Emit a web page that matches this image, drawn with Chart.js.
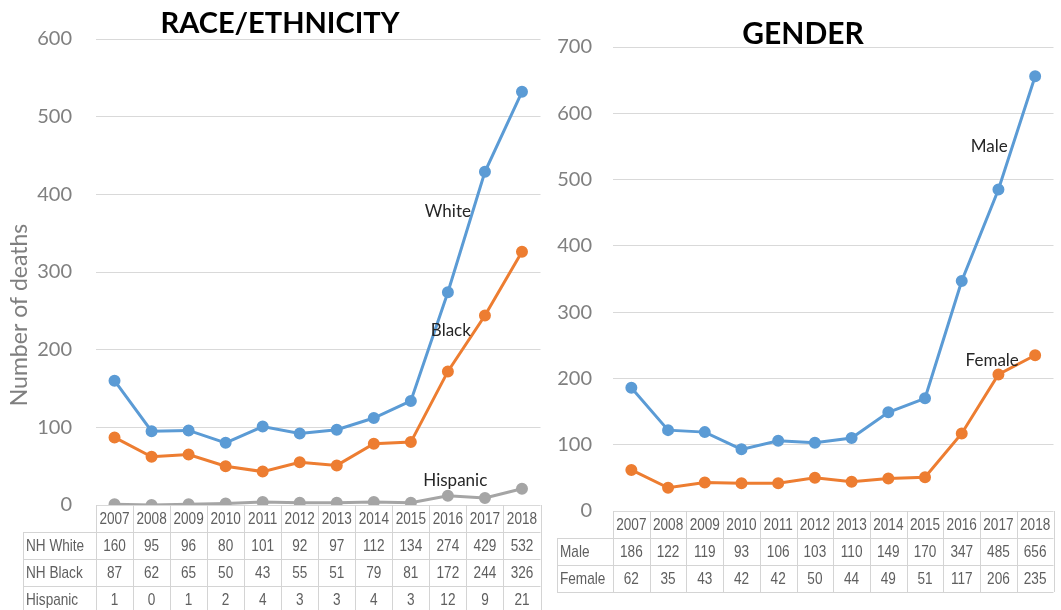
<!DOCTYPE html>
<html>
<head>
<meta charset="utf-8">
<script src="https://cdn.jsdelivr.net/npm/chart.js@4"></script>
<style>
  html, body { margin: 0; padding: 0; background: #fff; }
  body { width: 1061px; height: 610px; position: relative; overflow: hidden; }
  .panel { position: absolute; top: 0; height: 610px; }
  #race_panel { left: 0; width: 548px; }
  #gender_panel { left: 548px; width: 513px; }
</style>
</head>
<body>
<div class="panel" id="race_panel"><canvas id="race_chart"></canvas></div>
<div class="panel" id="gender_panel"><canvas id="gender_chart"></canvas></div>
<script>
const years = ["2007", "2008", "2009", "2010", "2011", "2012", "2013", "2014", "2015", "2016", "2017", "2018"];

const nhWhite = [160, 95, 96, 80, 101, 92, 97, 112, 134, 274, 429, 532];
const nhBlack = [87, 62, 65, 50, 43, 55, 51, 79, 81, 172, 244, 326];
const hispanic = [1, 0, 1, 2, 4, 3, 3, 4, 3, 12, 9, 21];

const male = [186, 122, 119, 93, 106, 103, 110, 149, 170, 347, 485, 656];
const female = [62, 35, 43, 42, 42, 50, 44, 49, 51, 117, 206, 235];

const raceMax = 600;
const genderMax = 700;
const tickStep = 100;

const BLUE = "#5B9BD5";
const ORANGE = "#ED7D31";
const GREY = "#A5A5A5";

// squeezed text for the table cells (narrow face look)
const NARROW = 0.8;
function narrowText(ctx, text, x, y) {
  ctx.save();
  ctx.scale(NARROW, 1);
  ctx.fillText(text, x / NARROW, y);
  ctx.restore();
}

// draws the title, the series names and the data table under the plot
function tablePlugin(cfg) {
  return {
    id: "tablePlugin",
    afterDraw(chart) {
      const { ctx, chartArea, scales } = chart;
      const x = scales.x;
      const y = scales.y;
      const step = (chartArea.right - chartArea.left) / years.length;
      const top = chartArea.bottom;
      const rh = 27;
      const nRows = cfg.rows.length;

      ctx.save();
      ctx.strokeStyle = "#d4d4d4";
      ctx.lineWidth = 1;
      ctx.beginPath();
      for (let r = 1; r <= nRows + 1; r++) {
        const yy = Math.round(top + r * rh) + 0.5;
        ctx.moveTo(cfg.labelLeft, yy);
        ctx.lineTo(chartArea.right, yy);
      }
      for (let c = 0; c <= years.length; c++) {
        const xx = Math.round(chartArea.left + c * step) + 0.5;
        ctx.moveTo(xx, top);
        ctx.lineTo(xx, top + (nRows + 1) * rh);
      }
      ctx.moveTo(cfg.labelLeft + 0.5, top + rh);
      ctx.lineTo(cfg.labelLeft + 0.5, top + (nRows + 1) * rh);
      ctx.stroke();

      ctx.font = "17px 'Liberation Sans', Arial, sans-serif";
      ctx.fillStyle = "#5f5f5f";
      ctx.textBaseline = "middle";
      ctx.textAlign = "center";
      years.forEach((yr, i) => narrowText(ctx, yr, x.getPixelForValue(i), top + rh / 2 + 1));
      cfg.rows.forEach((row, r) => {
        const cy = top + (r + 1.5) * rh + 1;
        ctx.textAlign = "left";
        narrowText(ctx, row.name, cfg.labelLeft + 3, cy);
        ctx.textAlign = "center";
        row.values.forEach((v, i) => narrowText(ctx, String(v), x.getPixelForValue(i), cy));
      });

      ctx.font = "17px Lato";
      ctx.fillStyle = "#262626";
      cfg.labels.forEach(l => {
        ctx.fillText(l.text, x.getPixelForValue(l.at), y.getPixelForValue(l.value));
      });

      ctx.font = "bold " + cfg.titleSize + "px Lato";
      ctx.fillStyle = "#000";
      ctx.fillText(cfg.title, cfg.titleX, cfg.titleY);

      if (cfg.yTitle) {
        ctx.translate(20, 315);
        ctx.rotate(-Math.PI / 2);
        ctx.font = "23px Lato";
        ctx.fillStyle = "#7f7f7f";
        ctx.fillText(cfg.yTitle, 0, 0);
      }
      ctx.restore();
    }
  };
}

function lineSet(label, data, color) {
  return {
    label: label,
    data: data,
    borderColor: color,
    backgroundColor: color,
    borderWidth: 3,
    pointRadius: 4.5,
    pointBackgroundColor: color,
    pointBorderColor: color,
    tension: 0
  };
}

function makeChart(id, datasets, max, yWidth, padding, tickPad, plugin) {
  return new Chart(document.getElementById(id), {
    type: "line",
    data: { labels: years, datasets: datasets },
    options: {
      responsive: true,
      maintainAspectRatio: false,
      animation: false,
      layout: { padding: padding },
      plugins: { legend: { display: false }, tooltip: { enabled: false } },
      scales: {
        x: { display: false, offset: true },
        y: {
          min: 0,
          max: max,
          ticks: {
            stepSize: tickStep,
            padding: tickPad,
            color: "#808080",
            font: { family: "Lato", size: 20 }
          },
          grid: { color: "#d9d9d9", drawTicks: false },
          border: { display: false },
          afterFit(scale) { scale.width = yWidth; }
        }
      }
    },
    plugins: [plugin]
  });
}

makeChart(
  "race_chart",
  [lineSet("NH White", nhWhite, BLUE), lineSet("NH Black", nhBlack, ORANGE), lineSet("Hispanic", hispanic, GREY)],
  raceMax, 96, { top: 39, bottom: 105, left: 0, right: 2 }, 24,
  tablePlugin({
    title: "RACE/ETHNICITY", titleX: 280, titleY: 24, titleSize: 29,
    yTitle: "Number of deaths",
    labelLeft: 23,
    rows: [
      { name: "NH White", values: nhWhite },
      { name: "NH Black", values: nhBlack },
      { name: "Hispanic", values: hispanic }
    ],
    labels: [
      { text: "White", at: 9.0, value: 378 },
      { text: "Black", at: 9.08, value: 225 },
      { text: "Hispanic", at: 9.2, value: 32 }
    ]
  })
);

makeChart(
  "gender_chart",
  [lineSet("Male", male, BLUE), lineSet("Female", female, ORANGE)],
  genderMax, 65, { top: 47, bottom: 99, left: 0, right: 0 }, 21,
  tablePlugin({
    title: "GENDER", titleX: 255, titleY: 34, titleSize: 30,
    labelLeft: 9,
    rows: [
      { name: "Male", values: male },
      { name: "Female", values: female }
    ],
    labels: [
      { text: "Male", at: 9.75, value: 550 },
      { text: "Female", at: 9.83, value: 227 }
    ]
  })
);
</script>
</body>
</html>
